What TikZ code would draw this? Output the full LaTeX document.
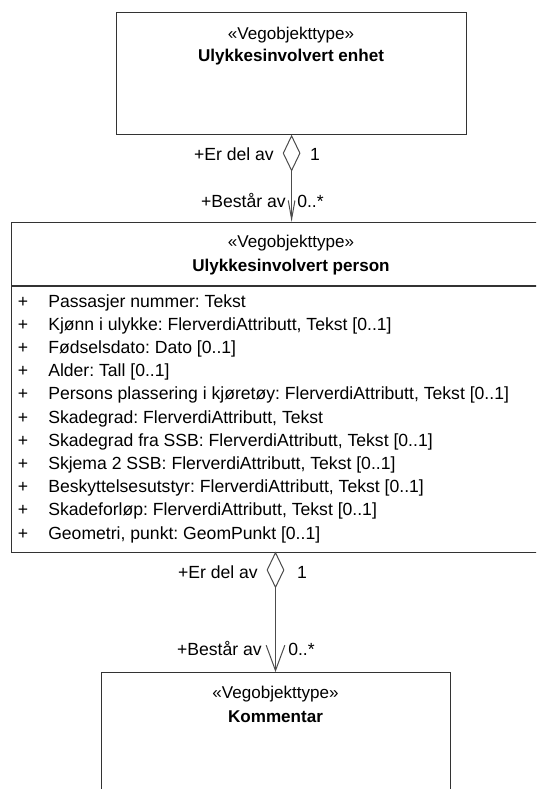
\documentclass[tikz,border=0pt]{standalone}
\usepackage{fontspec}
\setmainfont{Liberation Sans}
\usetikzlibrary{shapes.geometric,arrows.meta}
\frenchspacing
\begin{document}
\begin{tikzpicture}[x=0.75pt,y=-0.75pt,
  umlbox/.style={draw=black!80,line width=0.9pt,fill=white,rectangle,inner sep=0pt,anchor=north west},
  dia/.style={diamond,draw=black!70,line width=0.75pt,fill=white,inner sep=0pt,minimum width=12.75pt,minimum height=26.25pt,anchor=north},
  conn/.style={draw=black!70,line width=0.75pt},
  txt/.style={inner sep=0pt,font=\fontsize{13.2pt}{15pt}\selectfont},
  stt/.style={inner sep=0pt,font=\fontsize{12.8pt}{15pt}\selectfont},
  ttl/.style={inner sep=0pt,font=\fontsize{12.8pt}{15pt}\selectfont\bfseries},
  attr/.style={txt,anchor=base west},
  plus/.style={txt,anchor=base}
]
\useasboundingbox (0,0) rectangle (536,789);
\clip (0,0) rectangle (536,789);
\fill[white] (0,0) rectangle (536,789);

% boxes
\node[umlbox,minimum width=262.5pt,minimum height=91.5pt] (top) at (116,12) {};
\node[umlbox,minimum width=420pt,minimum height=247.5pt] (mid) at (11,222) {};
\node[umlbox,minimum width=261.75pt,minimum height=112.5pt] (bot) at (101,672) {};
\coordinate (sepL) at (11,286);
\coordinate (sepR) at (571,286);
\draw[draw=black!80,line width=0.9pt] (sepL) -- (sepR);

% titles
\node[stt,anchor=base] (t1s) at (291,39.5) {«Vegobjekttype»};
\node[ttl,anchor=base] (t1n) at (291,61) {Ulykkesinvolvert enhet};
\node[stt,anchor=base] (t2s) at (291,247.5) {«Vegobjekttype»};
\node[ttl,anchor=base] (t2n) at (291,271.5) {Ulykkesinvolvert person};
\node[stt,anchor=base] (t3s) at (275.5,698.5) {«Vegobjekttype»};
\node[ttl,anchor=base] (t3n) at (275.5,722.5) {Kommentar};

% attributes
\foreach \i/\t in {0/{Passasjer nummer: Tekst},
  1/{Kjønn i ulykke: FlerverdiAttributt, Tekst [0..1]},
  2/{Fødselsdato: Dato [0..1]},
  3/{Alder: Tall [0..1]},
  4/{Persons plassering i kjøretøy: FlerverdiAttributt, Tekst [0..1]},
  5/{Skadegrad: FlerverdiAttributt, Tekst},
  6/{Skadegrad fra SSB: FlerverdiAttributt, Tekst [0..1]},
  7/{Skjema 2 SSB: FlerverdiAttributt, Tekst [0..1]},
  8/{Beskyttelsesutstyr: FlerverdiAttributt, Tekst [0..1]},
  9/{Skadeforløp: FlerverdiAttributt, Tekst [0..1]},
  10/{Geometri, punkt: GeomPunkt [0..1]}}{
  \node[plus] (p\i) at (23,307+23.2*\i) {+};
  \node[attr] (a\i) at (48,307+23.2*\i) {\t};
}

% association 1
\node[dia] (d1) at (top.south) {};
\draw[conn,-{Straight Barb[length=14pt,width=5pt,line width=0.75pt]}] (d1.south) -- (mid.north);
\node[txt,anchor=base east] (l1a) at (274,160.5) {+Er del av};
\node[txt,anchor=base] (l1b) at (315,160.5) {1};
\node[txt,anchor=base east] (l1c) at (286,207.5) {+Består av};
\node[txt,anchor=base west] (l1d) at (297,207.5) {0..*};

% association 2
\node[dia] (d2) at (275.5,552) {};
\draw[conn,-{Straight Barb[length=19pt,width=14pt,line width=0.75pt]}] (d2.south) -- (d2.south |- bot.north);
\node[txt,anchor=base east] (l2a) at (258,578.5) {+Er del av};
\node[txt,anchor=base] (l2b) at (302,578.5) {1};
\node[txt,anchor=base east] (l2c) at (262,655.5) {+Består av};
\node[txt,anchor=base west] (l2d) at (288,655.5) {0..*};
\end{tikzpicture}
\end{document}
